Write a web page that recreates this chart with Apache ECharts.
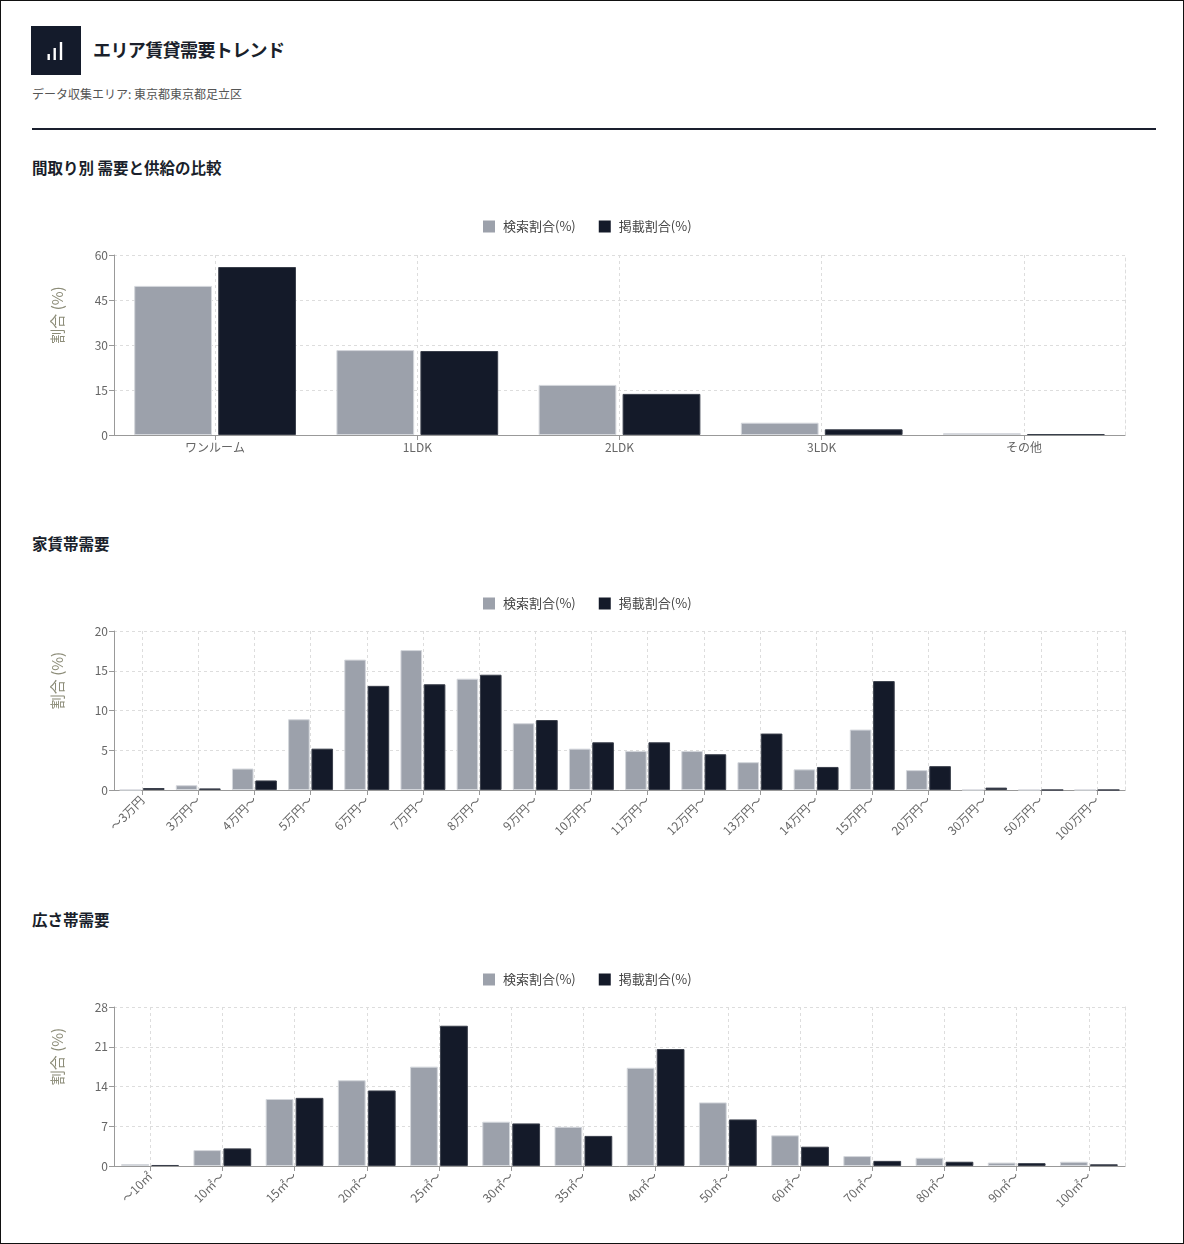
<!DOCTYPE html>
<html>
<head>
<meta charset="utf-8">
<script src="https://cdn.jsdelivr.net/npm/echarts@6/dist/echarts.min.js"></script>
<style>
  html, body { margin: 0; padding: 0; background: #fff; }
  body { font-family: "Noto Sans CJK JP", "Noto Sans", sans-serif; }
  .page { position: relative; width: 1184px; height: 1244px; border: 1px solid #111; box-sizing: border-box; }
  .icon { position: absolute; left: 30px; top: 25px; width: 50px; height: 49px; background: #141b2b; }
  .title { position: absolute; left: 92px; top: 35px; font-size: 18px; font-weight: bold; color: #1a1f2b; line-height: 26px; letter-spacing: -0.6px; }
  .sub { position: absolute; left: 31px; top: 84px; font-size: 12px; color: #555; line-height: 18px; }
  .rule { position: absolute; left: 31px; top: 127px; width: 1124px; height: 2px; background: #1a1f2e; }
  .sec { position: absolute; left: 31px; font-size: 15.5px; font-weight: bold; color: #1a1f2b; line-height: 22px; }
  .chart { position: absolute; left: 30px; width: 1125px; }
</style>
</head>
<body>
<div class="page">
  <div class="icon">
    <svg width="50" height="49" viewBox="0 0 50 49">
      <rect x="16.5" y="28" width="2.4" height="6" fill="#fff"/>
      <rect x="22.5" y="22" width="2.4" height="12" fill="#fff"/>
      <rect x="28.8" y="16" width="2.4" height="18" fill="#fff"/>
    </svg>
  </div>
  <div class="title">エリア賃貸需要トレンド</div>
  <div class="sub">データ収集エリア: 東京都東京都足立区</div>
  <div class="rule"></div>

  <div class="sec" style="top:155px">間取り別 需要と供給の比較</div>
  <div class="chart" id="madori" style="top:208px;height:262px"></div>

  <div class="sec" style="top:531px">家賃帯需要</div>
  <div class="chart" id="yachin" style="top:585px;height:270px"></div>

  <div class="sec" style="top:907px">広さ帯需要</div>
  <div class="chart" id="hirosa" style="top:961px;height:270px"></div>
</div>

<script>
// 間取り別
var madoriCats = ['ワンルーム', '1LDK', '2LDK', '3LDK', 'その他'];
var madoriSearch = [49.7, 28.3, 16.7, 4.1, 0.6];
var madoriListing = [56.0, 28.0, 13.7, 1.9, 0.3];

// 家賃帯
var yachinCats = ['～3万円', '3万円～', '4万円～', '5万円～', '6万円～', '7万円～', '8万円～', '9万円～', '10万円～',
  '11万円～', '12万円～', '13万円～', '14万円～', '15万円～', '20万円～', '30万円～', '50万円～', '100万円～'];
var yachinSearch = [0, 0.6, 2.7, 8.9, 16.4, 17.6, 14.0, 8.4, 5.2, 4.9, 4.9, 3.5, 2.6, 7.6, 2.5, 0, 0, 0];
var yachinListing = [0.25, 0.2, 1.2, 5.2, 13.1, 13.3, 14.5, 8.8, 6.0, 6.0, 4.5, 7.1, 2.9, 13.7, 3.0, 0.3, 0, 0];

// 広さ帯
var hirosaCats = ['～10㎡', '10㎡～', '15㎡～', '20㎡～', '25㎡～', '30㎡～', '35㎡～', '40㎡～', '50㎡～', '60㎡～',
  '70㎡～', '80㎡～', '90㎡～', '100㎡～'];
var hirosaSearch = [0.35, 2.8, 11.8, 15.1, 17.5, 7.8, 6.9, 17.3, 11.2, 5.4, 1.75, 1.45, 0.6, 0.75];
var hirosaListing = [0.18, 3.1, 12.0, 13.3, 24.7, 7.5, 5.3, 20.6, 8.2, 3.4, 0.9, 0.75, 0.5, 0.3];

// y軸の目盛
var madoriTicks = {max: 60, interval: 15};
var yachinTicks = {max: 20, interval: 5};
var hirosaTicks = {max: 28, interval: 7};

var GRAY = '#9ca1ab';
var DARK = '#141a29';
var FONT = '"Noto Sans CJK JP", "Noto Sans", sans-serif';

function makeOption(cats, search, listing, ticks, rotate) {
	var grid = rotate ? {left: 83, right: 31, top: 45, bottom: 66} : {left: 83, right: 31, top: 46, bottom: 36};
	return {
		textStyle: {fontFamily: FONT},
		animation: false,
		legend: {
			top: 6,
			left: 447,
			itemWidth: 12,
			itemHeight: 12,
			itemGap: 23,
			icon: 'rect',
			itemStyle: {borderWidth: 0},
			textStyle: {fontSize: 13, color: '#444', fontFamily: FONT, padding: [0, 0, 0, 3]},
			data: ['検索割合(%)', '掲載割合(%)']
		},
		grid: grid,
		xAxis: {
			type: 'category',
			data: cats,
			axisLine: {lineStyle: {color: '#999'}},
			axisTick: {show: true, alignWithLabel: true, length: 5, lineStyle: {color: '#999'}},
			axisLabel: {
				color: '#666',
				fontSize: 12,
				fontFamily: FONT,
				interval: 0,
				rotate: rotate ? 45 : 0,
				margin: rotate ? 8 : 6
			},
			splitLine: {show: true, alignWithLabel: true, lineStyle: {color: '#ddd', type: [3, 3]}}
		},
		yAxis: [{
			type: 'value',
			min: 0,
			max: ticks.max,
			interval: ticks.interval,
			name: '割合 (%)',
			nameLocation: 'middle',
			nameGap: 49,
			nameTextStyle: {color: '#8c8c78', fontSize: 15, fontFamily: FONT, padding: [0, 0, 0, 60]},
			axisLine: {show: true, lineStyle: {color: '#999'}},
			axisTick: {show: true, length: 5, lineStyle: {color: '#999'}},
			axisLabel: {color: '#666', fontSize: 12, fontFamily: FONT, margin: 6},
			splitLine: {show: true, lineStyle: {color: '#ddd', type: [3, 3]}}
		}, {
			type: 'value',
			position: 'right',
			min: 0,
			max: ticks.max,
			interval: ticks.interval,
			axisLine: {show: true, lineStyle: {color: '#ddd', type: [3, 3]}},
			axisTick: {show: false},
			axisLabel: {show: false},
			splitLine: {show: false}
		}],
		series: [{
			name: '検索割合(%)',
			type: 'bar',
			data: search,
			barGap: '8%',
			barCategoryGap: '20%',
			itemStyle: {color: GRAY, borderColor: '#d4d7dc', borderWidth: 1}
		}, {
			name: '掲載割合(%)',
			type: 'bar',
			data: listing,
			barGap: '8%',
			barCategoryGap: '20%',
			itemStyle: {color: DARK, borderColor: '#3a3f4b', borderWidth: 1}
		}]
	};
}

var chartMadori = echarts.init(document.getElementById('madori'));
var chartYachin = echarts.init(document.getElementById('yachin'));
var chartHirosa = echarts.init(document.getElementById('hirosa'));

chartMadori.setOption(makeOption(madoriCats, madoriSearch, madoriListing, madoriTicks, false));
chartYachin.setOption(makeOption(yachinCats, yachinSearch, yachinListing, yachinTicks, true));
chartHirosa.setOption(makeOption(hirosaCats, hirosaSearch, hirosaListing, hirosaTicks, true));
</script>
</body>
</html>
